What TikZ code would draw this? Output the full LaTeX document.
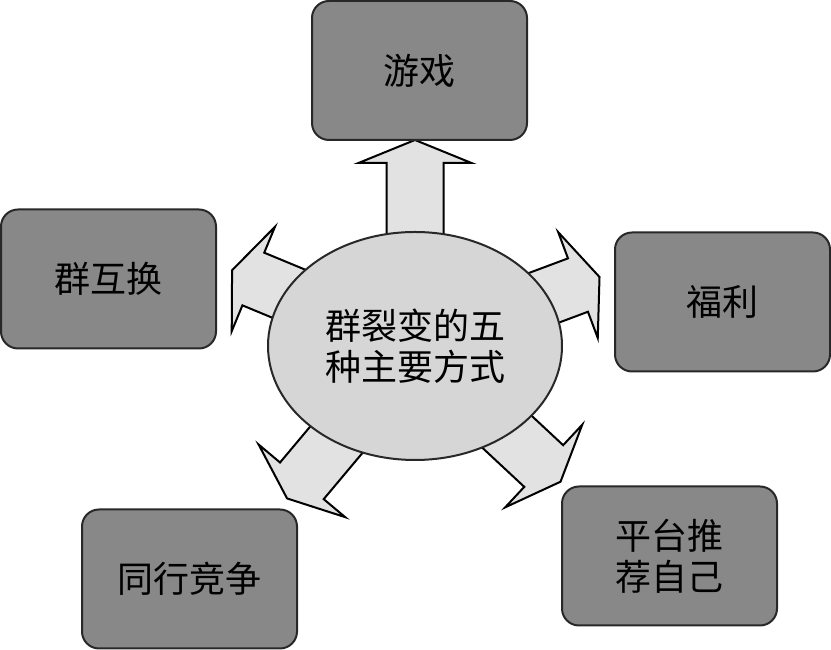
\documentclass[tikz,border=0pt]{standalone}
\usepackage{fontspec}
\newfontfamily\cjk{Noto Sans CJK SC}
\usetikzlibrary{shapes.geometric}
\definecolor{boxfill}{RGB}{136,136,136}
\definecolor{ellfill}{RGB}{214,214,214}
\definecolor{arrfill}{RGB}{226,226,226}
\definecolor{edge}{RGB}{40,40,40}
\tikzset{
  topicbox/.style={draw=edge, line width=2pt, fill=boxfill, rounded corners=17pt,
    minimum width=215pt, minimum height=139pt, align=center,
    font=\cjk\fontsize{36}{41}\selectfont, inner sep=0pt},
  hub/.style={ellipse, draw=edge, line width=2pt, fill=ellfill,
    minimum width=294pt, minimum height=228pt, align=center, inner sep=0pt,
    font=\cjk\fontsize{36}{41}\selectfont},
  blockarrow/.style={draw=black, line width=2pt, fill=arrfill, line join=miter}
}
\newcommand{\blockarr}[2]{%
  \begin{scope}[shift={(c.center)}, rotate=#1]
    \filldraw[blockarrow] (0,-28.5) -- (#2-23,-28.5) -- (#2-23,-56.5) -- (#2,0)
      -- (#2-23,56.5) -- (#2-23,28.5) -- (0,28.5) -- cycle;
  \end{scope}}
\begin{document}
\begin{tikzpicture}[x=1pt,y=1pt]
\useasboundingbox (0,0) rectangle (831,650);
\coordinate (c) at (415,304);
\blockarr{90}{206}
\blockarr{157.5}{198}
\blockarr{20.5}{197}
\blockarr{230}{199}
\blockarr{-43}{199}
\node[hub] (hub) at (c) {群裂变的五\\种主要方式};
\node[topicbox] (game) at (419.5,579.5) {游戏};
\node[topicbox] (swap) at (108.5,371) {群互换};
\node[topicbox] (wel) at (722.5,348) {福利};
\node[topicbox] (comp) at (189.5,71) {同行竞争};
\node[topicbox] (plat) at (669.5,94) {平台推\\荐自己};
\end{tikzpicture}
\end{document}
